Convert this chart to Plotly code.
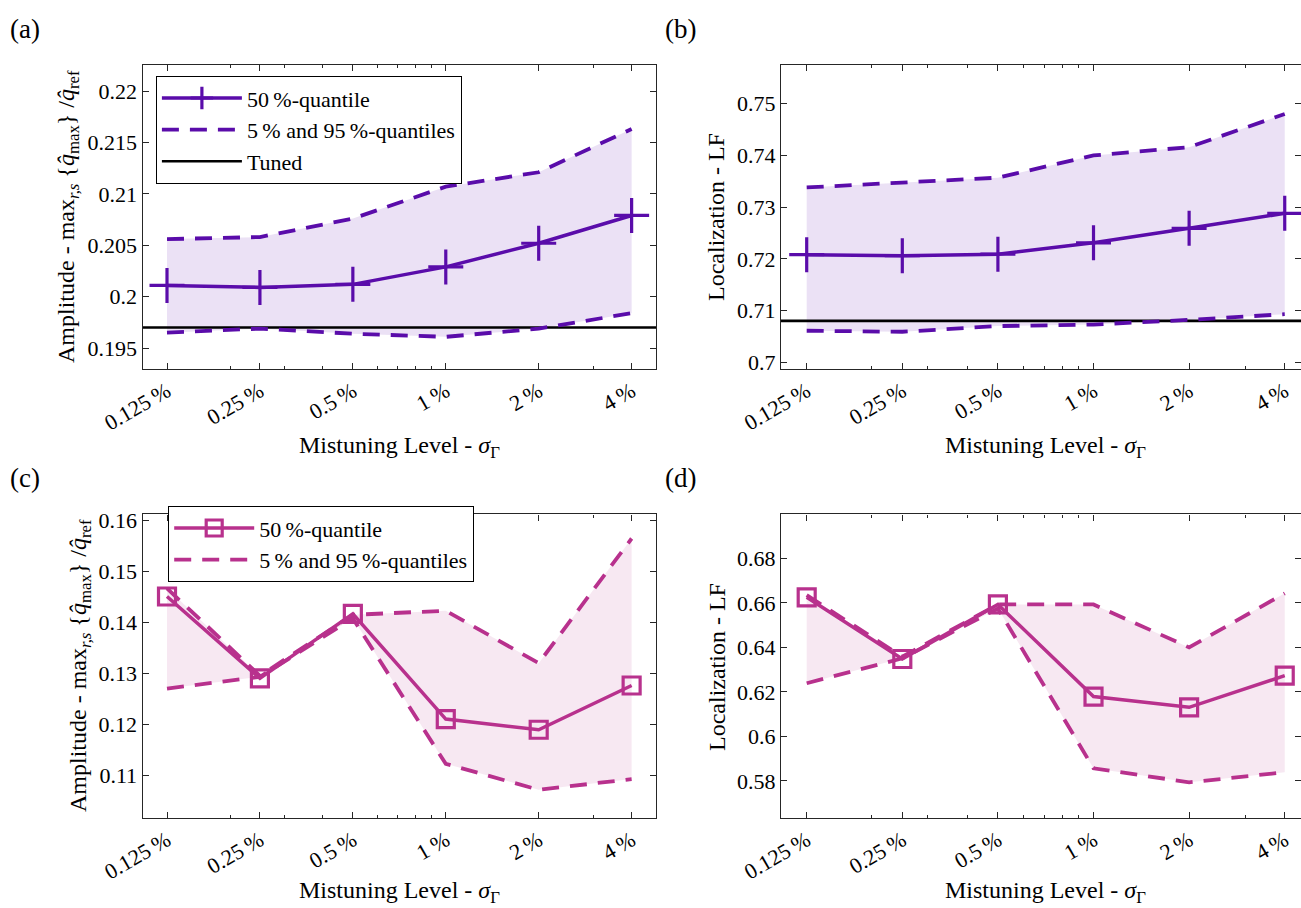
import plotly.graph_objects as go

# ---------------- data ----------------
levels = [0.125, 0.25, 0.5, 1, 2, 4]
level_labels = ["0.125\u2009%", "0.25\u2009%", "0.5\u2009%", "1\u2009%", "2\u2009%", "4\u2009%"]
minor_levels = [0.2, 0.3, 0.4, 0.6, 0.7, 0.8, 0.9, 3]

a_median = [0.2011, 0.2009, 0.2012, 0.2029, 0.2052, 0.2079]
a_upper = [0.2056, 0.2058, 0.2076, 0.2107, 0.2121, 0.2163]
a_lower = [0.1965, 0.1969, 0.1964, 0.1961, 0.1969, 0.1984]
a_tuned = 0.197

b_median = [0.7208, 0.7206, 0.7209, 0.7231, 0.7259, 0.7288]
b_upper = [0.7338, 0.7347, 0.7357, 0.7400, 0.7416, 0.7480]
b_lower = [0.7061, 0.7059, 0.7070, 0.7073, 0.7082, 0.7093]
b_tuned = 0.708

c_median = [0.1451, 0.1290, 0.1417, 0.1210, 0.1189, 0.1276]
c_upper = [0.1467, 0.1295, 0.1415, 0.1423, 0.1320, 0.1565]
c_lower = [0.1270, 0.1293, 0.1408, 0.1122, 0.1071, 0.1092]

d_median = [0.6625, 0.6348, 0.6593, 0.6179, 0.6131, 0.6273]
d_upper = [0.6635, 0.6358, 0.6593, 0.6593, 0.6400, 0.6643]
d_lower = [0.6239, 0.6351, 0.6575, 0.5857, 0.5794, 0.5839]

a_yticks = [0.195, 0.2, 0.205, 0.21, 0.215, 0.22]
b_yticks = [0.7, 0.71, 0.72, 0.73, 0.74, 0.75]
c_yticks = [0.11, 0.12, 0.13, 0.14, 0.15, 0.16]
d_yticks = [0.58, 0.6, 0.62, 0.64, 0.66, 0.68]

# ---------------- style ----------------
W, H = 1301, 908
FONT = "Liberation Serif, Times New Roman, DejaVu Serif, serif"
FS_TICK = 22
FS_TITLE = 24
FS_LEG = 22
PURPLE = "#5A0CAA"
PURPLE_FILL = "rgba(90,12,170,0.12)"
MAGENTA = "#B8318D"
MAGENTA_FILL = "rgba(184,49,141,0.11)"
AXCOL = "#262626"
DASH = "17px,11px"

def px(x):
    return x / W

def py(y):
    return 1 - y / H

def fmt(v):
    s = ("%.3f" % v).rstrip("0").rstrip(".")
    return s

panels = [
    dict(key="a", xa="x", ya="y", med=a_median, up=a_upper, lo=a_lower, tuned=a_tuned,
         col=PURPLE, fill=PURPLE_FILL, sym="cross-thin", msize=25, legend="legend",
         xdom=[142.7, 656.0], ydom=[65.0, 368.7], xr=[-0.9818, 0.6810], yr=[0.1930, 0.22253],
         yt=a_yticks),
    dict(key="b", xa="x2", ya="y2", med=b_median, up=b_upper, lo=b_lower, tuned=b_tuned,
         col=PURPLE, fill=PURPLE_FILL, sym="cross-thin", msize=25, legend=None,
         xdom=[781.0, 1301.0], ydom=[65.0, 368.7], xr=[-0.9840, 0.6533], yr=[0.69876, 0.75748],
         yt=b_yticks),
    dict(key="c", xa="x3", ya="y3", med=c_median, up=c_upper, lo=c_lower, tuned=None,
         col=MAGENTA, fill=MAGENTA_FILL, sym="square-open", msize=17, legend="legend2",
         xdom=[142.7, 656.0], ydom=[514.3, 817.7], xr=[-0.9818, 0.6810], yr=[0.10161, 0.16126],
         yt=c_yticks),
    dict(key="d", xa="x4", ya="y4", med=d_median, up=d_upper, lo=d_lower, tuned=None,
         col=MAGENTA, fill=MAGENTA_FILL, sym="square-open", msize=17, legend=None,
         xdom=[781.0, 1301.0], ydom=[514.3, 817.7], xr=[-0.9840, 0.6533], yr=[0.5635, 0.6998],
         yt=d_yticks),
]

fig = go.Figure()
layout = dict(
    width=W, height=H, margin=dict(l=0, r=0, t=0, b=0),
    paper_bgcolor="white", plot_bgcolor="white",
    font=dict(family=FONT, size=FS_TICK, color="black"),
    showlegend=True,
)

for p in panels:
    leg = p["legend"]
    show = leg is not None
    legkw = dict(legend=leg) if show else {}
    # shaded band
    fig.add_trace(go.Scatter(x=levels, y=p["up"], mode="lines", line=dict(width=0),
                             xaxis=p["xa"], yaxis=p["ya"], showlegend=False, hoverinfo="skip"))
    fig.add_trace(go.Scatter(x=levels, y=p["lo"], mode="lines", line=dict(width=0),
                             fill="tonexty", fillcolor=p["fill"],
                             xaxis=p["xa"], yaxis=p["ya"], showlegend=False, hoverinfo="skip"))
    # tuned reference
    if p["tuned"] is not None:
        fig.add_trace(go.Scatter(x=[10 ** p["xr"][0], 10 ** p["xr"][1]], y=[p["tuned"], p["tuned"]],
                                 mode="lines", line=dict(color="black", width=2.6),
                                 name="Tuned", legendrank=3, showlegend=show,
                                 xaxis=p["xa"], yaxis=p["ya"], cliponaxis=True, **legkw))
    # quantile lines
    fig.add_trace(go.Scatter(x=levels, y=p["up"], mode="lines",
                             line=dict(color=p["col"], width=3.8, dash=DASH),
                             name="5\u2009% and 95\u2009%-quantiles", legendrank=2,
                             showlegend=show, xaxis=p["xa"], yaxis=p["ya"], **legkw))
    fig.add_trace(go.Scatter(x=levels, y=p["lo"], mode="lines",
                             line=dict(color=p["col"], width=3.8, dash=DASH),
                             showlegend=False, xaxis=p["xa"], yaxis=p["ya"]))
    # median
    fig.add_trace(go.Scatter(x=levels, y=p["med"], mode="lines+markers",
                             line=dict(color=p["col"], width=3.5),
                             marker=dict(symbol=p["sym"], size=p["msize"], color=p["col"],
                                         line=dict(color=p["col"], width=3.2)),
                             name="50\u2009%-quantile", legendrank=1,
                             showlegend=show, xaxis=p["xa"], yaxis=p["ya"], **legkw))

    xname = "xaxis" + p["xa"][1:]
    yname = "yaxis" + p["ya"][1:]
    layout[xname] = dict(
        type="log", domain=[px(p["xdom"][0]), px(p["xdom"][1])], range=p["xr"],
        anchor=p["ya"], tickmode="array", tickvals=levels, ticktext=level_labels,
        tickangle=-30, ticks="inside", ticklen=6, tickwidth=1.2, tickcolor=AXCOL,
        showline=True, linecolor=AXCOL, linewidth=1.4, mirror="ticks",
        showgrid=False, zeroline=False, automargin=False,
        tickfont=dict(family=FONT, size=FS_TICK, color="black"),
        minor=dict(tickmode="array", tickvals=minor_levels, ticks="inside", ticklen=3,
                   tickwidth=1.0, tickcolor=AXCOL, showgrid=False),
    )
    layout[yname] = dict(
        domain=[py(p["ydom"][1]), py(p["ydom"][0])], range=p["yr"], anchor=p["xa"],
        tickmode="array", tickvals=p["yt"], ticktext=[fmt(v) for v in p["yt"]],
        ticks="inside", ticklen=6, tickwidth=1.2, tickcolor=AXCOL,
        showline=True, linecolor=AXCOL, linewidth=1.4, mirror="ticks",
        showgrid=False, zeroline=False, automargin=False,
        tickfont=dict(family=FONT, size=FS_TICK, color="black"),
    )

legend_common = dict(
    bgcolor="white", bordercolor="black", borderwidth=1.2,
    font=dict(family=FONT, size=FS_LEG, color="black"),
    xanchor="left", yanchor="top", tracegroupgap=0, itemwidth=80,
    traceorder="normal",
)
layout["legend"] = dict(x=px(155.7), y=py(76), **legend_common)
layout["legend2"] = dict(x=px(168), y=py(506), **legend_common)

ann = []
for label, x, y in [("(a)", 25, 29), ("(b)", 680, 29), ("(c)", 25, 478), ("(d)", 680, 478)]:
    ann.append(dict(text=label, x=px(x), y=py(y), xref="paper", yref="paper",
                    xanchor="center", yanchor="middle", showarrow=False,
                    font=dict(family=FONT, size=27, color="black")))

xtitle = "Mistuning Level - <i>\u03c3</i><sub>\u0393</sub>"
for x, y in [(399, 447), (1045, 447), (399, 892), (1045, 892)]:
    ann.append(dict(text=xtitle, x=px(x), y=py(y), xref="paper", yref="paper",
                    xanchor="center", yanchor="middle", showarrow=False,
                    font=dict(family=FONT, size=FS_TITLE, color="black")))

amp_title = ("Amplitude - max<sub><i>r,s</i></sub> {<i>q\u0302</i><sub>max</sub>} "
             "/<i>q\u0302</i><sub>ref</sub>")
loc_title = "Localization - LF"
for t, x, y in [(amp_title, 68, 217), (loc_title, 716, 217), (amp_title, 80, 666), (loc_title, 717, 667)]:
    ann.append(dict(text=t, x=px(x), y=py(y), xref="paper", yref="paper",
                    xanchor="center", yanchor="middle", showarrow=False, textangle=-90,
                    font=dict(family=FONT, size=FS_TITLE, color="black")))

layout["annotations"] = ann
fig.update_layout(**layout)
fig.write_html("out.html")
